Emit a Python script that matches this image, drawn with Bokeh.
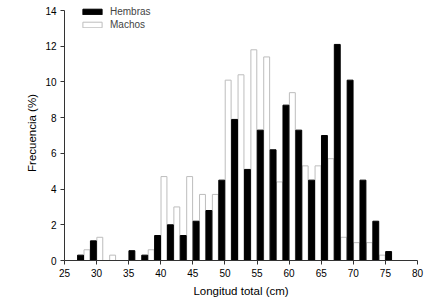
from bokeh.plotting import figure
from bokeh.models import ColumnDataSource, Legend, LegendItem, Range1d, FixedTicker
from bokeh.transform import dodge
from bokeh.embed import file_html
from bokeh.resources import INLINE

# Bin midpoints (cm), 2 cm classes
centro = [28, 30, 32, 34, 36, 38, 40, 42, 44, 46, 48, 50, 52, 54, 56, 58, 60,
          62, 64, 66, 68, 70, 72, 74, 76]
hembras = [0.3, 1.1, 0.0, 0.0, 0.55, 0.3, 1.4, 2.0, 1.4, 2.2, 2.8, 4.5, 7.9,
           5.1, 7.3, 6.2, 8.7, 7.3, 4.5, 7.0, 12.1, 10.1, 4.5, 2.2, 0.5]
machos = [0.6, 1.3, 0.3, 0.0, 0.0, 0.6, 4.7, 3.0, 4.7, 3.7, 3.7, 10.1, 10.4,
          11.8, 11.4, 4.4, 9.4, 5.3, 5.3, 5.7, 1.3, 1.0, 1.0, 0.3, 0.0]
x_ticks = [25, 30, 35, 40, 45, 50, 55, 60, 65, 70, 75, 80]
y_ticks = [0, 2, 4, 6, 8, 10, 12, 14]

FONT = "Liberation Sans"

src = ColumnDataSource(dict(centro=centro, hembras=hembras, machos=machos))

p = figure(width=428, height=304, output_backend="svg", toolbar_location=None,
           x_range=Range1d(25, 80), y_range=Range1d(0, 14.28),
           min_border_left=64, min_border_right=11, min_border_top=5,
           min_border_bottom=44)
p.outline_line_color = None
p.xgrid.visible = False
p.ygrid.visible = False

rm = p.vbar(x=dodge("centro", 0.5, range=p.x_range), top="machos", width=0.92,
            source=src, fill_color="white", line_color="#bdbdbd", line_width=1)
rh = p.vbar(x=dodge("centro", -0.5, range=p.x_range), top="hembras", width=0.92,
            source=src, fill_color="black", line_color="black", line_width=1)

for ax in (p.xaxis[0], p.yaxis[0]):
    ax.axis_line_color = "#333333"
    ax.major_tick_line_color = "#333333"
    ax.major_tick_out = 4
    ax.major_tick_in = 0
    ax.minor_tick_line_color = None
    ax.major_label_text_font = FONT
    ax.major_label_text_font_size = "10px"
    ax.major_label_text_color = "black"
    ax.axis_label_text_font = FONT
    ax.axis_label_text_font_size = "11.5px"
    ax.axis_label_text_font_style = "normal"
    ax.axis_label_text_color = "black"

p.xaxis.ticker = FixedTicker(ticks=x_ticks)
p.yaxis.ticker = FixedTicker(ticks=y_ticks)
p.yaxis.bounds = (0, 14)
p.xaxis.axis_label = "Longitud total (cm)"
p.yaxis.axis_label = "Frecuencia (%)"
p.xaxis.axis_label_standoff = 5
p.yaxis.axis_label_standoff = 4
p.xaxis.major_label_standoff = 4
p.yaxis.major_label_standoff = 4

legend = Legend(items=[LegendItem(label="Hembras", renderers=[rh]),
                       LegendItem(label="Machos", renderers=[rm])],
                location=(16, 229), padding=0, spacing=0, margin=0,
                glyph_width=24, glyph_height=7, label_height=13,
                label_standoff=6, border_line_color=None,
                background_fill_alpha=0,
                label_text_font=FONT, label_text_font_size="10px")
p.add_layout(legend, "center")

open("out.html", "w").write(file_html(p, INLINE))
